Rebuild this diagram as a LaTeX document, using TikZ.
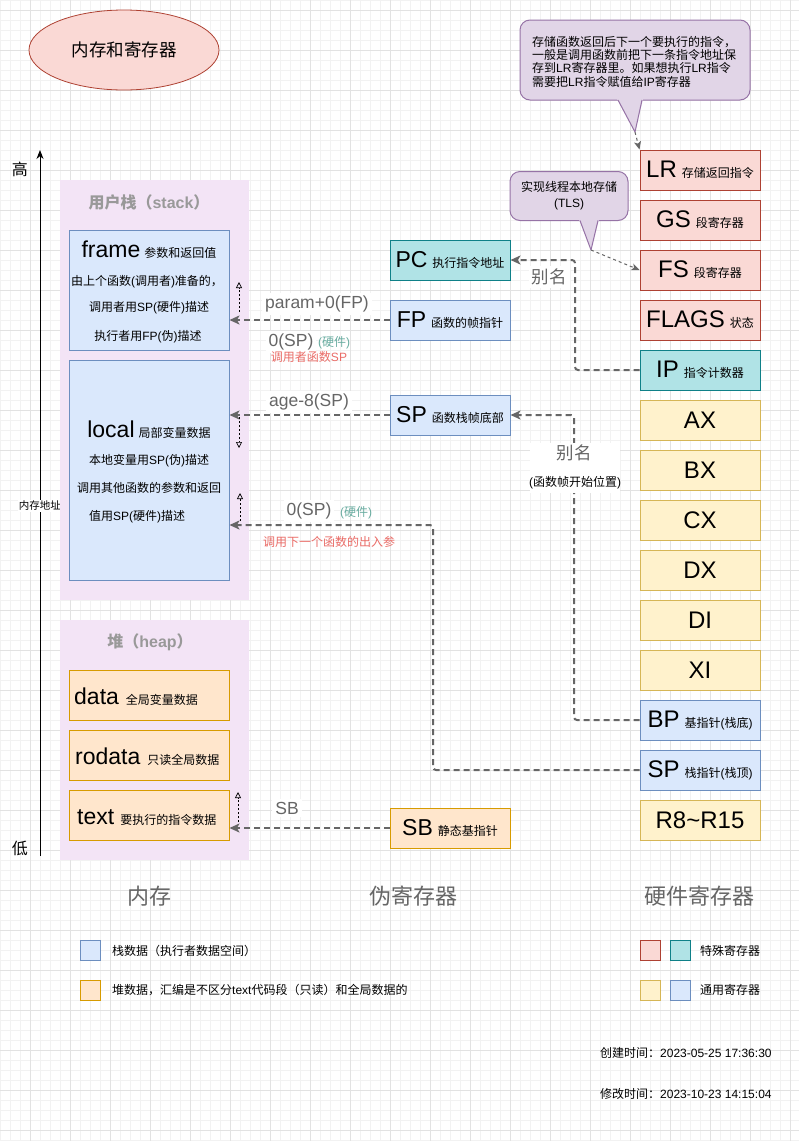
\documentclass[tikz,border=0pt]{standalone}
\usepackage{fontspec}
\setmainfont{Liberation Sans}
\newfontfamily\cjkfont{Noto Sans CJK SC}
\usetikzlibrary{arrows.meta,shapes.geometric}
\XeTeXinterchartokenstate=1
\newXeTeXintercharclass\cjkcls
\newcount\cjkcnt
\newcommand\setcjkrange[2]{\cjkcnt=#1\relax
  \loop\XeTeXcharclass\cjkcnt=\cjkcls\relax
  \ifnum\cjkcnt<#2\relax\advance\cjkcnt by 1\relax\repeat}
\setcjkrange{"3000}{"303F}
\setcjkrange{"4E00}{"9FFF}
\setcjkrange{"FF00}{"FFEF}
\XeTeXinterchartoks 0 \cjkcls = {\begingroup\cjkfont}
\XeTeXinterchartoks 4095 \cjkcls = {\begingroup\cjkfont}
\XeTeXinterchartoks \cjkcls 0 = {\endgroup}
\XeTeXinterchartoks \cjkcls 4095 = {\endgroup}
\newcommand\fsz[1]{\fontsize{#1pt}{#1pt}\selectfont}
\newcommand\regtxt[3][24]{{\fsz{#1}#2}\hspace{5pt}{\fsz{12}#3}}
\definecolor{redF}{HTML}{FAD9D5}\definecolor{redS}{HTML}{AE4132}
\definecolor{tealF}{HTML}{B0E3E6}\definecolor{tealS}{HTML}{0E8088}
\definecolor{yelF}{HTML}{FFF2CC}\definecolor{yelS}{HTML}{D6B656}
\definecolor{bluF}{HTML}{DAE8FC}\definecolor{bluS}{HTML}{6C8EBF}
\definecolor{orgF}{HTML}{FFE6CC}\definecolor{orgS}{HTML}{D79B00}
\definecolor{purF}{HTML}{E1D5E7}\definecolor{purS}{HTML}{9673A6}
\definecolor{contF}{HTML}{F3E4F6}
\definecolor{lineC}{HTML}{666666}
\definecolor{txtG}{HTML}{666666}
\definecolor{titG}{HTML}{999999}
\definecolor{grnT}{HTML}{67AB9F}
\definecolor{redT}{HTML}{EA6B66}
\definecolor{gridA}{HTML}{F2F2F2}
\definecolor{gridB}{HTML}{E2E2E2}
\tikzset{
  reg/.style={draw, line width=1pt, minimum width=120pt, minimum height=40pt, inner sep=0pt},
  redreg/.style={reg, fill=redF, draw=redS},
  tealreg/.style={reg, fill=tealF, draw=tealS},
  yelreg/.style={reg, fill=yelF, draw=yelS},
  blureg/.style={reg, fill=bluF, draw=bluS},
  orgreg/.style={reg, fill=orgF, draw=orgS},
  membox/.style={draw, line width=1pt, minimum width=160pt, inner sep=0pt},
  cont/.style={fill=contF, minimum width=189pt, inner sep=0pt},
  conn/.style={draw=lineC, line width=2pt, dash pattern=on 6pt off 4pt, rounded corners=3pt,
    -{Stealth[length=10pt,width=9pt,inset=2.5pt,fill=lineC]}},
  tickarrow/.style={draw=black, line width=0.7pt, dash pattern=on 2pt off 2pt,
    -{Triangle[open,length=6pt,width=6pt]}},
  ptr/.style={draw=lineC, line width=1pt, dash pattern=on 3pt off 3pt,
    -{Stealth[length=8pt,width=7pt,inset=2pt,fill=lineC]}},
  lbl/.style={text=txtG, font={\fsz{17.5}}, fill=white, inner sep=3pt},
  smalltxt/.style={font={\fsz{12}}, inner sep=0pt},
  bottomlbl/.style={text=txtG, font={\fsz{22}}, inner sep=0pt},
  legsq/.style={draw, line width=1pt, minimum width=20pt, minimum height=20pt, inner sep=0pt},
  calloutbox/.style={draw=purS, fill=purF, line width=1pt, rounded corners=10pt, inner sep=0pt},
}
\begin{document}
\begin{tikzpicture}[x=1pt,y=-1pt]
\useasboundingbox (0,0) rectangle (799,1141);
\fill[white] (0,0) rectangle (799,1141);
% grid
\foreach \gx in {0,10,...,790} \draw[gridA, line width=0.6pt] (\gx,0) -- (\gx,1141);
\foreach \gy in {0,10,...,1140} \draw[gridA, line width=0.6pt] (0,\gy) -- (799,\gy);
\foreach \gx in {30,70,...,790} \draw[gridB, line width=0.8pt] (\gx,0) -- (\gx,1141);
\foreach \gy in {10,50,...,1130} \draw[gridB, line width=0.8pt] (0,\gy) -- (799,\gy);

% title
\node[ellipse, draw=redS, fill=redF, line width=0.8pt, minimum width=190pt, minimum height=80pt,
  font={\fsz{17.5}}, inner sep=0pt] (title) at (124,50) {内存和寄存器};

% axis
\coordinate (axbot) at (40,856);
\coordinate (axtop) at (40,150);
\draw[line width=1pt, -{Stealth[length=9pt,width=7pt]}] (axbot) -- (axtop);
\node[font={\fsz{16}}, inner sep=0pt] (hi) at (20,169) {高};
\node[font={\fsz{16}}, inner sep=0pt] (lo) at (20,848) {低};
\node[fill=white, inner sep=1pt, font={\fsz{10.5}}] (addr) at (40,506) {内存地址};

% stack
\node[cont, minimum height=420pt] (stack) at (154.5,390) {};
\node[font={\bfseries\fsz{16}}, text=titG, inner sep=0pt] (stackT) at (149,202) {用户栈（stack）};
\node[membox, fill=bluF, draw=bluS, minimum height=120pt] (frame) at (149,290) {};
\node[anchor=base, inner sep=0pt] (frameT) at (149,257) {{\fsz{23}frame}\hspace{4pt}{\fsz{12}参数和返回值}};
\node[smalltxt] (frameL1) at (147,282) {由上个函数(调用者)准备的，};
\node[smalltxt] (frameL2) at (149,308) {调用者用SP(硬件)描述};
\node[smalltxt] (frameL3) at (148,337) {执行者用FP(伪)描述};
\node[membox, fill=bluF, draw=bluS, minimum height=220pt] (local) at (149,470) {};
\node[anchor=base, inner sep=0pt] (localT) at (149,437) {{\fsz{23}local}\hspace{4pt}{\fsz{12}局部变量数据}};
\node[smalltxt] (localL1) at (149,461) {本地变量用SP(伪)描述};
\node[smalltxt] (localL2) at (149,488) {调用其他函数的参数和返回};
\node[smalltxt] (localL3) at (137,517) {值用SP(硬件)描述};

% heap
\node[cont, minimum height=240pt] (heap) at (154.5,740) {};
\node[font={\bfseries\fsz{16}}, text=titG, inner sep=0pt] (heapT) at (150,642) {堆（heap）};
\node[membox, fill=orgF, draw=orgS, minimum height=50pt] (data) at (149,695) {};
\node[anchor=base west, inner sep=0pt] (dataT) at (74,704) {{\fsz{23}data}\hspace{7pt}{\fsz{12}全局变量数据}};
\node[membox, fill=orgF, draw=orgS, minimum height=50pt] (rodata) at (149,755) {};
\node[anchor=base west, inner sep=0pt] (rodataT) at (75,764) {{\fsz{23}rodata}\hspace{7pt}{\fsz{12}只读全局数据}};
\node[membox, fill=orgF, draw=orgS, minimum height=50pt] (textbox) at (149,815) {};
\node[anchor=base west, inner sep=0pt] (textT) at (77,824) {{\fsz{23}text}\hspace{6pt}{\fsz{12}要执行的指令数据}};

% pseudo registers
\node[tealreg] (PC) at (450,260) {\regtxt[23]{PC}{执行指令地址}};
\node[blureg] (FP) at (450,320) {\regtxt[23]{FP}{函数的帧指针}};
\node[blureg] (SPp) at (450,415) {\regtxt[23]{SP}{函数栈帧底部}};
\node[orgreg] (SB) at (450,828) {\regtxt[23]{SB}{静态基指针}};

% hardware registers
\node[redreg] (LR) at (700,170) {\regtxt{LR}{存储返回指令}};
\node[redreg] (GS) at (700,220) {\regtxt{GS}{段寄存器}};
\node[redreg] (FS) at (700,270) {\regtxt{FS}{段寄存器}};
\node[redreg] (FLAGS) at (700,320) {\regtxt{FLAGS}{状态}};
\node[tealreg] (IP) at (700,370) {\regtxt{IP}{指令计数器}};
\node[yelreg] (AX) at (700,420) {\fsz{24}AX};
\node[yelreg] (BX) at (700,470) {\fsz{24}BX};
\node[yelreg] (CX) at (700,520) {\fsz{24}CX};
\node[yelreg] (DX) at (700,570) {\fsz{24}DX};
\node[yelreg] (DI) at (700,620) {\fsz{24}DI};
\node[yelreg] (XI) at (700,670) {\fsz{24}XI};
\node[blureg] (BP) at (700,720) {\regtxt{BP}{基指针(栈底)}};
\node[blureg] (SPh) at (700,770) {\regtxt{SP}{栈指针(栈顶)}};
\node[yelreg] (R8) at (700,820) {\fsz{24}R8\textasciitilde R15};

% connectors
\draw[conn] (FP.west) -- (FP.west -| frame.east);
\draw[conn] (SPp.west) -- (SPp.west -| local.east);
\coordinate (spcorner) at (433,525);
\draw[conn] (SPh.west) -| (spcorner) -- (spcorner -| local.east);
\coordinate (bpcorner) at (574,415);
\draw[conn] (BP.west) -| (bpcorner) -- (SPp.east);
\coordinate (ipcorner) at (575,260);
\draw[conn] (IP.west) -| (ipcorner) -- (PC.east);
\draw[conn] (SB.west) -- (SB.west -| textbox.east);

% connector labels
\node[lbl] (lparam) at (317,304) {param+0(FP)};
\node[lbl] (lzero1) at (291,342) {0(SP)};
\node[smalltxt, text=grnT] (lhw1) at (334,343) {(硬件)};
\node[smalltxt, text=redT] (lcaller) at (309,357) {调用者函数SP};
\node[lbl] (lage) at (309,402) {age-8(SP)};
\node[lbl] (lzero2) at (309,511) {0(SP)};
\node[smalltxt, text=grnT] (lhw2) at (356,513) {(硬件)};
\node[smalltxt, text=redT] (lnext) at (329,542) {调用下一个函数的出入参};
\node[fill=white, minimum width=90pt, minimum height=50pt, inner sep=0pt] (aliasbg) at (575,468) {};
\node[text=txtG, font={\fsz{17.5}}, inner sep=0pt] (alias1) at (574,453) {别名};
\node[smalltxt] (aliasnote) at (575,483) {(函数帧开始位置)};
\node[lbl] (alias2) at (549,277) {别名};
\node[lbl] (lsb) at (287,808) {SB};

% small dotted arrows
\coordinate (t1a) at (239,312); \coordinate (t1b) at (239,282);
\coordinate (t2a) at (239,417); \coordinate (t2b) at (239,448);
\coordinate (t3a) at (240,521); \coordinate (t3b) at (240,493);
\coordinate (t4a) at (238,822); \coordinate (t4b) at (238,792);
\draw[tickarrow] (t1a) -- (t1b);
\draw[tickarrow] (t2a) -- (t2b);
\draw[tickarrow] (t3a) -- (t3b);
\draw[tickarrow] (t4a) -- (t4b);

% callout 1
\node[calloutbox, minimum width=230pt, minimum height=80pt] (call1) at (635,60) {};
\fill[purF] (617,99) -- (635,132) -- (643,99) -- cycle;
\draw[purS, line width=1pt, line join=round] (618,100) -- (635,132) -- (642,100);
\coordinate (call1tip) at (635,132);
\node[anchor=west, align=left, font={\fontsize{12pt}{13.3pt}\selectfont}, inner sep=0pt] (call1T) at (532,61.5)
  {存储函数返回后下一个要执行的指令，\\一般是调用函数前把下一条指令地址保\\存到LR寄存器里。如果想执行LR指令\\需要把LR指令赋值给IP寄存器};
\draw[ptr] (call1tip) -- (LR.north west);

% callout 2
\node[calloutbox, minimum width=118pt, minimum height=49pt] (call2) at (569,196) {};
\fill[purF] (579,219.5) -- (591,250) -- (599,219.5) -- cycle;
\draw[purS, line width=1pt, line join=round] (580,220.5) -- (591,250) -- (598,220.5);
\coordinate (call2tip) at (591,250);
\node[align=center, font={\fontsize{12pt}{16pt}\selectfont}, inner sep=0pt] (call2T) at (569,196)
  {实现线程本地存储\\(TLS)};
\draw[ptr] (call2tip) -- (FS.west);

% bottom labels
\node[bottomlbl] (bmem) at (149,896) {内存};
\node[bottomlbl] (bpseudo) at (413,896) {伪寄存器};
\node[bottomlbl] (bhw) at (699,896) {硬件寄存器};

% legend
\node[legsq, fill=bluF, draw=bluS] (leg1) at (90,950) {};
\node[smalltxt, anchor=west] (leg1T) at (112,951) {栈数据（执行者数据空间）};
\node[legsq, fill=orgF, draw=orgS] (leg2) at (90,990) {};
\node[smalltxt, anchor=west] (leg2T) at (112,990) {堆数据，汇编是不区分text代码段（只读）和全局数据的};
\node[legsq, fill=redF, draw=redS] (leg3) at (650,950) {};
\node[legsq, fill=tealF, draw=tealS] (leg4) at (680,950) {};
\node[smalltxt, anchor=west] (leg34T) at (700,951) {特殊寄存器};
\node[legsq, fill=yelF, draw=yelS] (leg5) at (650,990) {};
\node[legsq, fill=bluF, draw=bluS] (leg6) at (680,990) {};
\node[smalltxt, anchor=west] (leg56T) at (700,990) {通用寄存器};

% timestamps
\node[smalltxt, anchor=west] (created) at (600,1053) {创建时间：2023-05-25 17:36:30};
\node[smalltxt, anchor=west] (modified) at (600,1094) {修改时间：2023-10-23 14:15:04};
\end{tikzpicture}
\end{document}
